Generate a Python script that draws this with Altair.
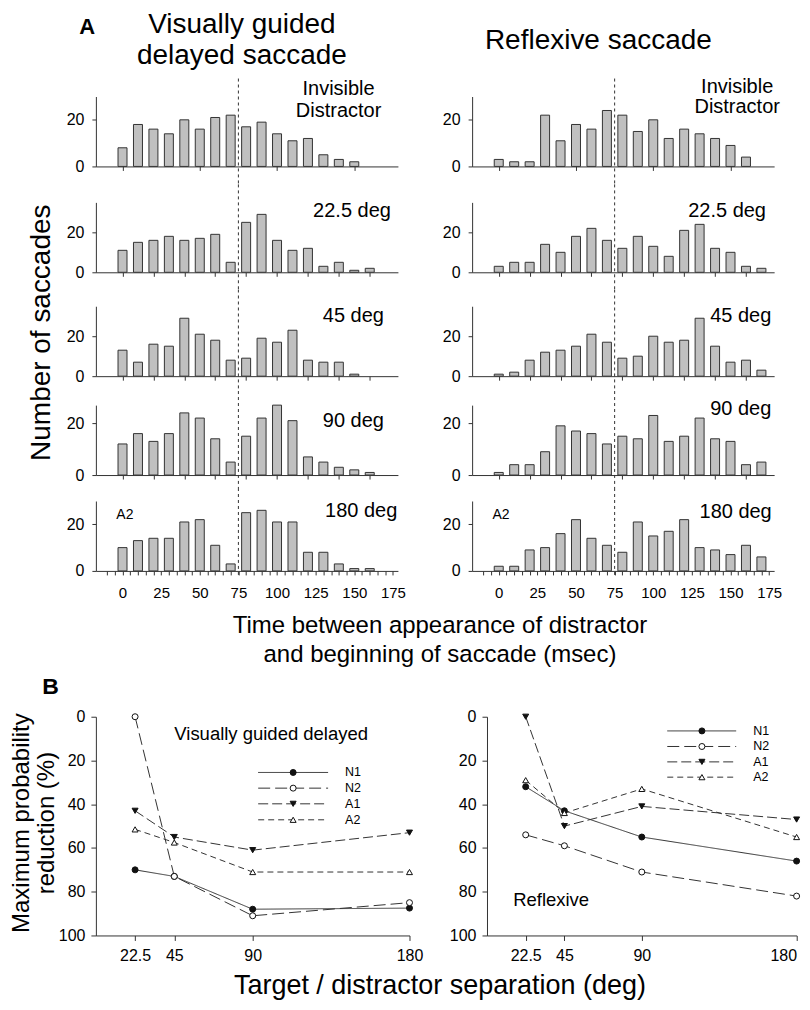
import altair as alt
import pandas as pd

FONT = "Liberation Sans"

# ---------------- data: histograms (A) ----------------
BIN_MS = [0, 10, 20, 30, 40, 50, 60, 70, 80, 90, 100, 110, 120, 130, 140, 150, 160, 170]
DISTRACTOR_MS = 75

VG_INVISIBLE = [8, 18, 16, 14, 20, 16, 21, 22, 17, 19, 14, 11, 12, 5, 3, 2]
VG_22 = [11, 15, 16, 18, 16, 17, 19, 5, 25, 29, 16, 11, 12, 3, 5, 1, 2]
VG_45 = [13, 7, 16, 15, 29, 21, 18, 8, 9, 19, 17, 23, 8, 7, 7, 1]
VG_90 = [12, 16, 13, 16, 24, 22, 14, 5, 15, 22, 27, 21, 7, 5, 3, 2, 1]
VG_180 = [10, 13, 14, 14, 21, 22, 11, 3, 25, 26, 21, 21, 8, 8, 3, 1, 1]

RX_INVISIBLE = [3, 2, 2, 22, 11, 18, 16, 24, 22, 15, 20, 12, 16, 14, 12, 9, 4]
RX_22 = [3, 5, 5, 14, 10, 18, 22, 16, 12, 18, 13, 8, 21, 24, 12, 10, 3, 2]
RX_45 = [1, 2, 8, 12, 13, 15, 21, 17, 9, 10, 20, 17, 18, 29, 15, 7, 8, 3]
RX_90 = [1, 4, 4, 9, 19, 17, 16, 12, 15, 14, 23, 13, 15, 22, 14, 13, 4, 5]
RX_180 = [2, 2, 9, 10, 16, 22, 14, 11, 8, 21, 15, 17, 22, 10, 9, 7, 11, 6]

ROW_YMAX = [30, 35, 35, 27, 30]
ROW_LABELS = ["Invisible|Distractor", "22.5 deg", "45 deg", "90 deg", "180 deg"]

TICKS_TOP = [0, 50, 100, 150]
TICKS_MID = [0, 20, 40, 60, 80, 100, 120, 140, 160]
TICKS_BOTTOM = [-10, -5, 0, 5, 10, 15, 20, 25, 30, 35, 40, 45, 50, 55, 60, 65, 70, 75, 80,
                85, 90, 95, 100, 105, 110, 115, 120, 125, 130, 135, 140, 145, 150, 155,
                160, 165, 170, 175]

# ---------------- data: probability reduction (B) ----------------
SEPARATION = [22.5, 45, 90, 180]
SERIES = ["N1", "N2", "A1", "A2"]
VG_N1 = [70, 73, 88, 87.5]
VG_N2 = [0, 73, 91, 85]
VG_A1 = [43, 55, 61, 53]
VG_A2 = [51.5, 57.5, 71, 71]
RX_N1 = [32, 43, 55, 66]
RX_N2 = [54, 59, 71, 82]
RX_A1 = [0, 50, 41, 47]
RX_A2 = [29, 44, 33, 55]

DASHES = [[1, 0], [12, 5], [10, 4], [6, 4]]
SHAPES = ["circle", "circle", "triangle-down", "triangle-up"]
FILLS = ["#111111", "#ffffff", "#111111", "#ffffff"]

HW = 302.4
HH = 70
LINE_C = "#333333"
BR_OFF = 14.9


def label(s, x, y, size, align="left", bold=False, angle=None):
    props = dict(align=align, baseline="middle", fontSize=size, font=FONT, color="#000000")
    if bold:
        props["fontWeight"] = "bold"
    if angle is not None:
        props["angle"] = angle
    return alt.Chart(pd.DataFrame({"k": [0]})).mark_text(**props).encode(
        x=alt.value(x), y=alt.value(y), text=alt.value(s))


def spacer(w, h):
    return alt.Chart(pd.DataFrame({"k": [0]})).mark_point(opacity=0, size=1).encode(
        x=alt.value(1), y=alt.value(1)).properties(width=w, height=h)


def hist_panel(values, ymax, ticks, bottom, rule_y, rule_y2, extra):
    df = pd.DataFrame({"ms": BIN_MS[:len(values)], "n": values})
    axis_kw = dict(values=ticks, title=None, tickSize=4, grid=False, labelFlush=False,
                   labelOverlap=False)
    if bottom:
        axis_kw.update(labelFontSize=15, labelPadding=11,
                       labelExpr="(datum.value % 25 == 0 && datum.value >= 0) ? datum.label : ''")
    else:
        axis_kw.update(labels=False)
    xs = alt.Scale(domain=[-14, 175], nice=False, zero=False)
    bars = alt.Chart(df).mark_bar(size=9, fill="#c0c0c0", stroke=LINE_C, strokeWidth=1).encode(
        x=alt.X("ms:Q", scale=xs, axis=alt.Axis(**axis_kw)),
        y=alt.Y("n:Q", scale=alt.Scale(domain=[0, ymax], nice=False),
                axis=alt.Axis(values=[0, 20], title=None, tickSize=4, labelPadding=8,
                              labelFontSize=16, grid=False)),
    )
    rule = alt.Chart(pd.DataFrame({"ms": [DISTRACTOR_MS]})).mark_rule(
        strokeDash=[3, 3], color=LINE_C, strokeWidth=1).encode(
        x=alt.X("ms:Q", scale=xs, axis=alt.Axis(**axis_kw)),
        y=alt.value(rule_y), y2=alt.value(rule_y2))
    return alt.layer(bars, rule, *extra).properties(width=HW, height=HH)


RULES = [(-18, 88), (-18, 86.75), (-16.75, 84.1), (-14.1, 83), (-13, 74)]
GAPS = [36, 33.5, 28.2, 26]


def panels(data_lists, extras):
    out = []
    for i, vals in enumerate(data_lists):
        ticks = TICKS_TOP if i == 0 else (TICKS_BOTTOM if i == 4 else TICKS_MID)
        out.append(hist_panel(vals, ROW_YMAX[i], ticks, i == 4, RULES[i][0], RULES[i][1], extras[i]))
    return out


inv = ROW_LABELS[0].split("|")
left_extras = [
    [label("A", -8.8, -69.5, 22, "center", bold=True),
     label("Visually guided", 146.2, -72, 28, "center"),
     label("delayed saccade", 146.2, -40.3, 28, "center"),
     label(inv[0], 243, -7.3, 20, "center"),
     label(inv[1], 243, 14.3, 20, "center")],
    [label(ROW_LABELS[1], 217.5, 9, 20)],
    [label(ROW_LABELS[2], 227.2, 9.8, 20),
     label("Number of saccades", -53.5, 26.5, 28, "center", angle=270)],
    [label(ROW_LABELS[3], 227.2, 15.8, 20)],
    [label(ROW_LABELS[4], 229.5, 9.8, 20),
     label("A2", 20.5, 14, 14),
     label("Time between appearance of distractor", 344.5, 125, 24, "center"),
     label("and beginning of saccade (msec)", 344.5, 154, 24, "center")],
]
right_extras = [
    [label("Reflexive saccade", 126.4, -56, 28, "center"),
     label(inv[0], 265.4, -10, 20, "center"),
     label(inv[1], 265.4, 11, 20, "center")],
    [label(ROW_LABELS[1], 216.4, 8.3, 20)],
    [label(ROW_LABELS[2], 238.4, 9.8, 20)],
    [label(ROW_LABELS[3], 238.4, 4, 20)],
    [label(ROW_LABELS[4], 227.7, 10.6, 20),
     label("A2", 20.4, 14, 14)],
]

left_panels = panels([VG_INVISIBLE, VG_22, VG_45, VG_90, VG_180], left_extras)
right_panels = panels([RX_INVISIBLE, RX_22, RX_45, RX_90, RX_180], right_extras)


def legend_layers(x1, x2, xm, xl, ys):
    out = []
    for name, dash, shape, fill, yy in zip(SERIES, DASHES, SHAPES, FILLS, ys):
        out.append(alt.Chart(pd.DataFrame({"k": [0]})).mark_rule(
            strokeDash=dash, color=LINE_C, strokeWidth=1).encode(
            x=alt.value(x1), x2=alt.value(x2), y=alt.value(yy)))
        out.append(alt.Chart(pd.DataFrame({"k": [0]})).mark_point(
            filled=True, shape=shape, fill=fill, stroke="#111111", strokeWidth=1,
            size=36, opacity=1).encode(x=alt.value(xm), y=alt.value(yy)))
        out.append(label(name, xl, yy, 12.5))
    return out


def b_panel(series_vals, cell_width, x_range, y_offset, flush, extra):
    rows = []
    for name, vals in zip(SERIES, series_vals):
        for s, v in zip(SEPARATION, vals):
            rows.append({"series": name, "sep": s, "red": v})
    df = pd.DataFrame(rows)
    x = alt.X("sep:Q", scale=alt.Scale(domain=[0, 180], range=x_range, nice=False),
              axis=alt.Axis(values=SEPARATION, labelExpr="'' + datum.value", title=None,
                            tickSize=5, labelFontSize=16, labelPadding=7, labelFlush=flush,
                            labelOverlap=False, grid=False))
    y = alt.Y("red:Q", scale=alt.Scale(domain=[0, 100], reverse=True, nice=False),
              axis=alt.Axis(values=[0, 20, 40, 60, 80, 100], title=None, tickSize=5,
                            labelFontSize=16, labelPadding=6, grid=False, offset=y_offset))
    lines = alt.Chart(df).mark_line(strokeWidth=1, color=LINE_C).encode(
        x=x, y=y, detail="series:N",
        strokeDash=alt.StrokeDash("series:N", scale=alt.Scale(domain=SERIES, range=DASHES),
                                  legend=None))
    points = alt.Chart(df).mark_point(filled=True, size=36, stroke="#111111", strokeWidth=1,
                                      opacity=1).encode(
        x=x, y=y,
        shape=alt.Shape("series:N", scale=alt.Scale(domain=SERIES, range=SHAPES), legend=None),
        fill=alt.Fill("series:N", scale=alt.Scale(domain=SERIES, range=FILLS), legend=None))
    return alt.layer(lines, points, *extra).properties(width=cell_width, height=219)


BL = b_panel([VG_N1, VG_N2, VG_A1, VG_A2], HW, [0, 314], 0, False,
             [label("B", -45.5, -30, 23, "center", bold=True),
              label("Maximum probability", -74, 106.5, 24, "center", angle=270),
              label("reduction (%)", -49, 106.5, 24, "center", angle=270),
              label("Visually guided delayed", 78.5, 17.2, 18.5),
              label("Target / distractor separation (deg)", 344.5, 269.5, 27, "center")]
             + legend_layers(162.5, 232.5, 197.5, 249.5, [55.8, 71.5, 87.2, 103.2]))
BR = b_panel([RX_N1, RX_N2, RX_A1, RX_A2], 310 + BR_OFF, [BR_OFF, 310 + BR_OFF], -BR_OFF, True,
             [label("Reflexive", 26.2 + BR_OFF, 183.8, 18.5)]
             + legend_layers(180.5 + BR_OFF, 249.5 + BR_OFF, 215.2 + BR_OFF, 266.5 + BR_OFF,
                             [14.2, 29.8, 45.2, 60.5]))

cells = []
for i in range(5):
    cells += [left_panels[i], right_panels[i]]
    gap = GAPS[i] if i < 4 else 145.8
    cells += [spacer(HW, gap), spacer(HW, gap)]
cells += [BL, BR]

chart = alt.concat(*cells, columns=2, bounds="flush",
                   spacing={"row": 0, "column": 73.7}).properties(
    padding={"top": 2, "left": 2, "right": 0, "bottom": 2}, background="white"
).configure_axis(
    domainColor=LINE_C, tickColor=LINE_C, labelColor="black", labelFont=FONT,
    domainWidth=1, tickWidth=1, grid=False
).configure_view(stroke=None)

chart.save("out.html", embed_options={"renderer": "svg", "actions": False})
